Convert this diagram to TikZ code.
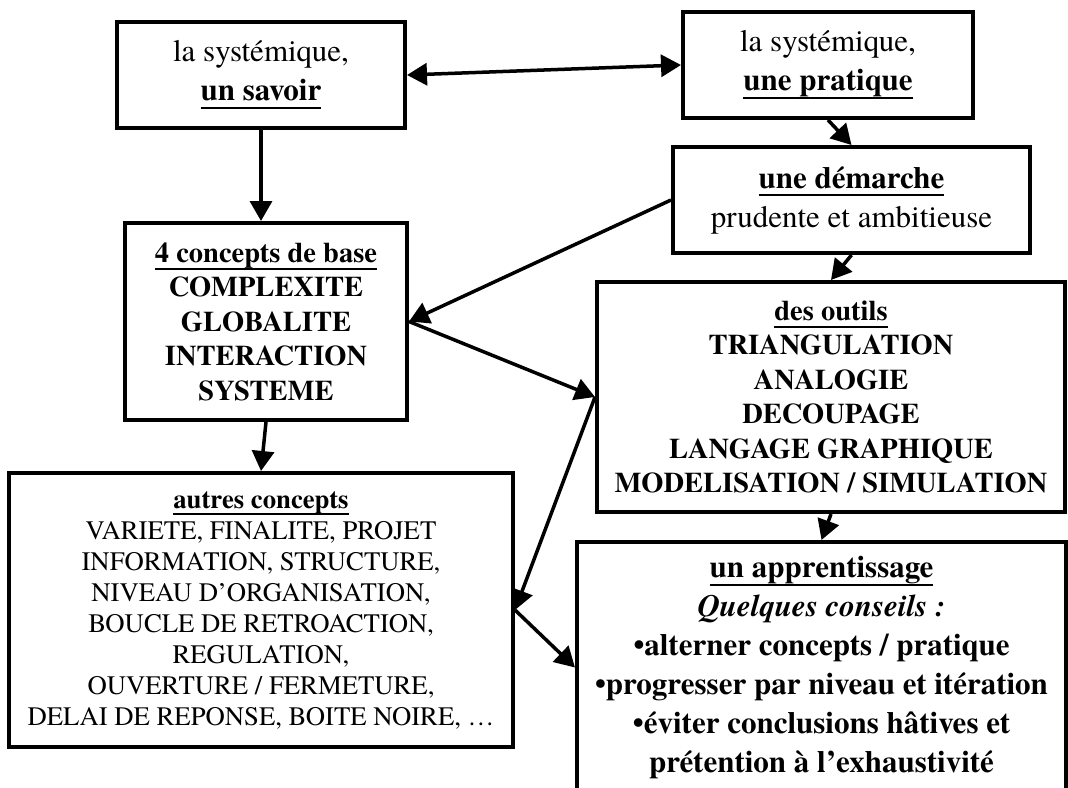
\documentclass[tikz,border=0pt]{standalone}
\usepackage{fontspec}
\setmainfont{TeX Gyre Termes}
\usetikzlibrary{arrows.meta}

\newcommand{\grand}{\fontsize{31}{39}\selectfont\lineskiplimit=-50pt}
\newcommand{\moyen}{\fontsize{28.5}{34.5}\selectfont\lineskiplimit=-50pt}
\newcommand{\petit}{\fontsize{26.7}{31}\selectfont\lineskiplimit=-50pt}
\newcommand{\souligne}[1]{\setbox0\hbox{#1}\rlap{\rule[-0.27em]{\wd0}{2pt}}\box0}
\newcommand{\titre}[1]{\textbf{\souligne{#1}}}

\begin{document}
\begin{tikzpicture}[x=1pt,y=-1pt,>={Triangle[length=20pt,width=22pt]},
  boite/.style={draw,line width=4pt,align=center,inner sep=0pt},
  lien/.style={->,line width=3.5pt}]
\useasboundingbox (0,0) rectangle (1068,787);
\clip (0,0) rectangle (1068,787);

\node[boite,minimum width=288pt,minimum height=106pt,font=\grand] (savoir) at (261,75)
  {la systémique,\\ \titre{un savoir}};
\node[boite,minimum width=290pt,minimum height=106pt,font=\grand] (pratique) at (828,65)
  {la systémique,\\ \titre{une pratique}};
\node[boite,minimum width=357pt,minimum height=106pt,font=\grand] (demarche) at (851.5,200)
  {\titre{une démarche}\\ prudente et ambitieuse};
\node[boite,minimum width=282pt,minimum height=197pt,font=\moyen\bfseries] (base) at (266,321.5)
  {\souligne{4 concepts de base}\\ COMPLEXITE\\ GLOBALITE\\ INTERACTION\\ SYSTEME};
\node[boite,minimum width=468pt,minimum height=230pt,font=\moyen\bfseries] (outils) at (831,397)
  {\souligne{des outils}\\ TRIANGULATION\\ ANALOGIE\\ DECOUPAGE\\ LANGAGE GRAPHIQUE\\ MODELISATION / SIMULATION};
\node[boite,minimum width=504pt,minimum height=274pt,font=\petit] (autres) at (261,610)
  {\titre{autres concepts}\\ VARIETE, FINALITE, PROJET\\ INFORMATION, STRUCTURE,\\
   NIVEAU D’ORGANISATION,\\ BOUCLE DE RETROACTION,\\ REGULATION,\\
   OUVERTURE / FERMETURE,\\ DELAI DE REPONSE, BOITE NOIRE, \dots};
\node[boite,minimum width=489pt,minimum height=251pt,font=\grand\bfseries] (apprentissage) at (821.5,667.5)
  {\souligne{un apprentissage}\\ \textit{Quelques conseils :}\\ •alterner concepts / pratique\\
   •progresser par niveau et itération\\ •éviter conclusions hâtives et\\ prétention à l’exhaustivité};

\draw[lien,<->] (savoir.east) -- (pratique.west);
\draw[lien] (savoir.south) -- (savoir.south |- base.north);
\draw[lien] (pratique.south) -- (demarche.north);
\draw[lien] (demarche.west) -- (base.east);
\draw[lien] (demarche.south) -- (outils.north);
\draw[lien] (base.east) -- (outils.west);
\draw[lien] (outils.west) -- (autres.east);
\draw[lien] (base.south) -- (autres.north);
\draw[lien] (autres.east) -- (apprentissage.west);
\draw[lien] (outils.south) -- (apprentissage.north);
\end{tikzpicture}
\end{document}
